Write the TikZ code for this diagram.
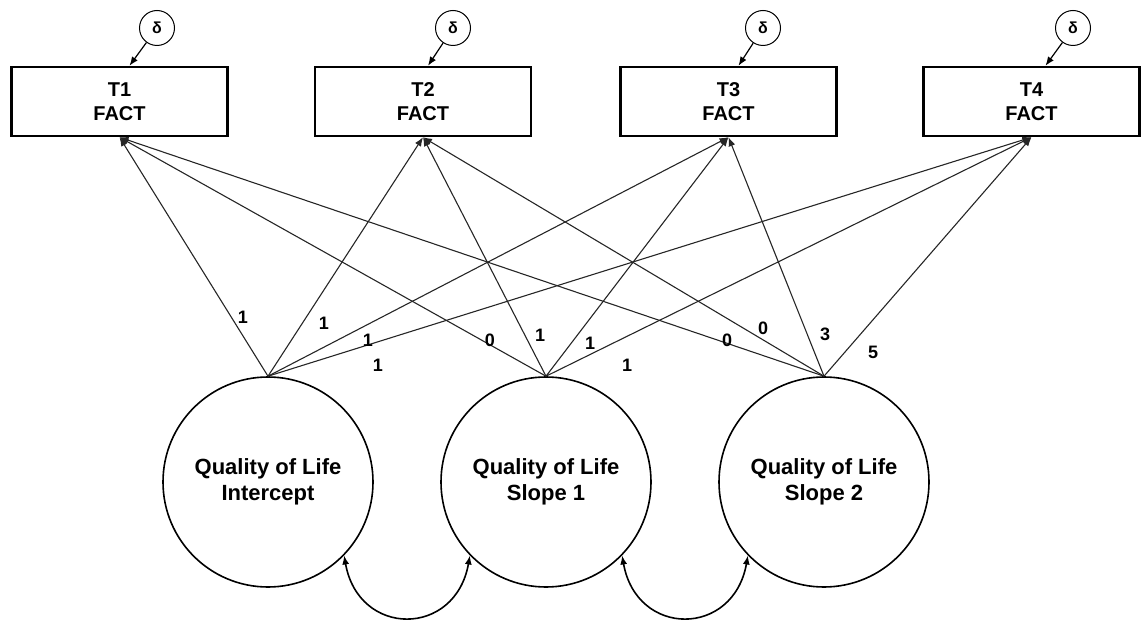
\documentclass[tikz,border=0pt]{standalone}
\usepackage{fontspec}
\setmainfont{Liberation Sans}
\usetikzlibrary{arrows.meta}
\tikzset{
	fact/.style={draw, line width=2.5pt, minimum width=216pt, minimum height=69pt, align=center, font=\fontsize{20}{24}\selectfont\bfseries},
	err/.style={draw, circle, line width=1pt, minimum size=35pt, inner sep=0pt, font=\fontsize{16}{16}\selectfont\bfseries},
	latent/.style={draw, circle, line width=1.6pt, minimum size=210pt, align=center, font=\fontsize{22}{26}\selectfont\bfseries},
	load/.style={->, line width=1.1pt, black!85},
	wt/.style={inner sep=1pt, font=\fontsize{18}{18}\selectfont\bfseries},
}
\begin{document}
\begin{tikzpicture}[x=1pt, y=1pt, >={Latex[length=9pt,width=7pt]}]
	\useasboundingbox (0, 0) rectangle (1141, -620);
	% measured variables
	\node[fact] (t1) at (119.5, -101.5) {T1\\FACT};
	\node[fact] (t2) at (423, -101.5) {T2\\FACT};
	\node[fact] (t3) at (728.5, -101.5) {T3\\FACT};
	\node[fact] (t4) at (1031.5, -101.5) {T4\\FACT};
	\node[err] (d1) at (157, -28) {δ};
	\node[err] (d2) at (453, -28) {δ};
	\node[err] (d3) at (763, -28) {δ};
	\node[err] (d4) at (1073, -28) {δ};
	\draw[->, line width=1.2pt] (d1) -- ([xshift=10pt]t1.north);
	\draw[->, line width=1.2pt] (d2) -- ([xshift=5pt]t2.north);
	\draw[->, line width=1.2pt] (d3) -- ([xshift=10pt]t3.north);
	\draw[->, line width=1.2pt] (d4) -- ([xshift=14pt]t4.north);

	% growth factors
	\node[latent] (icpt) at (268, -482) {Quality of Life\\Intercept};
	\node[latent] (slp1) at (546, -482) {Quality of Life\\Slope 1};
	\node[latent] (slp2) at (824, -482) {Quality of Life\\Slope 2};

	\draw[load] (icpt.north) -- (t1.south);
	\draw[load] (icpt.north) -- (t2.south);
	\draw[load] (icpt.north) -- (t3.south);
	\draw[load] (icpt.north) -- (t4.south);
	\draw[load] (slp1.north) -- (t1.south);
	\draw[load] (slp1.north) -- (t2.south);
	\draw[load] (slp1.north) -- (t3.south);
	\draw[load] (slp1.north) -- (t4.south);
	\draw[load] (slp2.north) -- (t1.south);
	\draw[load] (slp2.north) -- (t2.south);
	\draw[load] (slp2.north) -- (t3.south);
	\draw[load] (slp2.north) -- (t4.south);

	\node[wt] (w11) at (243, -317) {1};
	\node[wt] (w12) at (324, -323) {1};
	\node[wt] (w13) at (368, -340) {1};
	\node[wt] (w14) at (378, -365) {1};
	\node[wt] (w21) at (490, -340) {0};
	\node[wt] (w22) at (540, -335) {1};
	\node[wt] (w23) at (590, -343) {1};
	\node[wt] (w24) at (627, -365) {1};
	\node[wt] (w31) at (727, -340) {0};
	\node[wt] (w32) at (763, -328) {0};
	\node[wt] (w33) at (825, -334) {3};
	\node[wt] (w34) at (873, -352) {5};

	% covariances
	\draw[<->, line width=1.6pt] (icpt.-44) to[out=-80, in=-100, looseness=1.7] (slp1.-136);
	\draw[<->, line width=1.6pt] (slp1.-44) to[out=-80, in=-100, looseness=1.7] (slp2.-136);
\end{tikzpicture}
\end{document}
